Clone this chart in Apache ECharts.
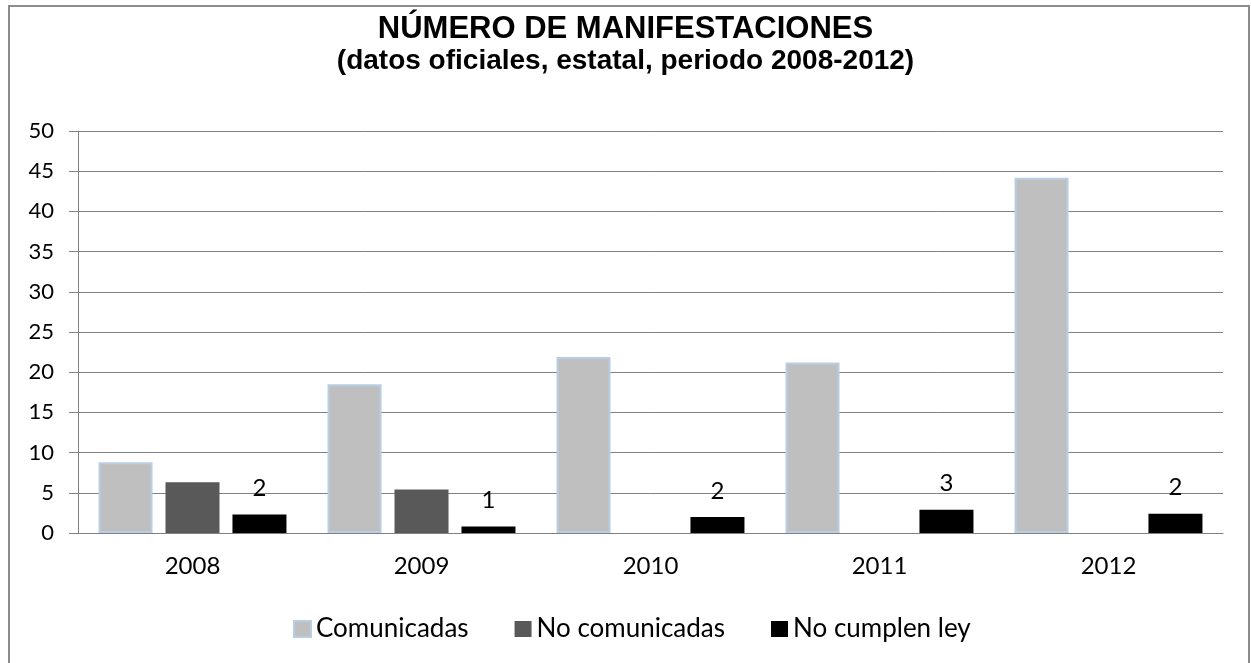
<!DOCTYPE html>
<html>
<head>
<meta charset="utf-8">
<script src="https://cdn.jsdelivr.net/npm/echarts@6/dist/echarts.min.js"></script>
<style>
  html, body { margin: 0; padding: 0; background: #fff; }
  #chart { width: 1251px; height: 663px; }
</style>
</head>
<body>
<div id="chart"></div>
<script>
// categories and values
const years = ['2008', '2009', '2010', '2011', '2012'];
const comunicadas = [8.8, 18.5, 21.9, 21.2, 44.2];
const noComunicadas = [6.3, 5.4, 0, 0, 0];
const noCumplenLey = [2.3, 0.8, 2.0, 2.9, 2.4];
const seriesNames = ['Comunicadas', 'No comunicadas', 'No cumplen ley'];

const baseFont = 'Lato';
const myChart = echarts.init(document.getElementById('chart'));

const option = {
  animation: false,
  backgroundColor: '#fff',
  title: {
    text: 'NÚMERO DE MANIFESTACIONES',
    subtext: '(datos oficiales, estatal, periodo 2008-2012)',
    left: 'center',
    top: 9,
    itemGap: 2,
    textStyle: {
      fontFamily: 'Liberation Sans',
      fontWeight: 'bold',
      fontSize: 31,
      color: '#000'
    },
    subtextStyle: {
      fontFamily: 'Liberation Sans',
      fontWeight: 'bold',
      fontSize: 28,
      color: '#000'
    }
  },
  graphic: [
    {
      type: 'rect',
      shape: { x: 9, y: 6, width: 1240, height: 700 },
      style: { fill: 'none', stroke: '#8c8c8c', lineWidth: 2 },
      silent: true
    }
  ],
  legend: {
    data: seriesNames,
    icon: 'rect',
    left: 288,
    top: 611,
    itemWidth: 17,
    itemHeight: 16,
    itemGap: 46,
    textStyle: { fontFamily: baseFont, fontSize: 26, color: '#000' }
  },
  grid: {
    left: 78,
    right: 28,
    top: 131,
    bottom: 130
  },
  xAxis: {
    type: 'category',
    data: years,
    axisLine: { lineStyle: { color: '#808080', width: 1 } },
    axisTick: { show: false },
    axisLabel: {
      fontFamily: baseFont,
      fontSize: 24,
      color: '#000',
      margin: 21
    }
  },
  yAxis: {
    type: 'value',
    min: 0,
    max: 50,
    interval: 5,
    axisLine: { show: true, lineStyle: { color: '#808080', width: 1 } },
    axisTick: { show: true, length: 9, lineStyle: { color: '#808080' } },
    splitLine: { lineStyle: { color: '#808080', width: 1 } },
    axisLabel: {
      fontFamily: baseFont,
      fontSize: 22,
      color: '#000',
      margin: 24
    }
  },
  series: [
    {
      name: seriesNames[0],
      type: 'bar',
      data: comunicadas,
      barWidth: 54,
      barGap: '24%',
      itemStyle: { color: '#bfbfbf', borderColor: '#b9cde5', borderWidth: 2 }
    },
    {
      name: seriesNames[1],
      type: 'bar',
      data: noComunicadas,
      barWidth: 54,
      barGap: '24%',
      itemStyle: { color: '#595959' }
    },
    {
      name: seriesNames[2],
      type: 'bar',
      data: noCumplenLey,
      barWidth: 54,
      barGap: '24%',
      itemStyle: { color: '#000' },
      label: {
        show: true,
        position: 'top',
        distance: 14,
        fontFamily: baseFont,
        fontSize: 24,
        color: '#000',
        formatter: function (p) { return Math.round(p.value); }
      }
    }
  ]
};

myChart.setOption(option);
</script>
</body>
</html>
